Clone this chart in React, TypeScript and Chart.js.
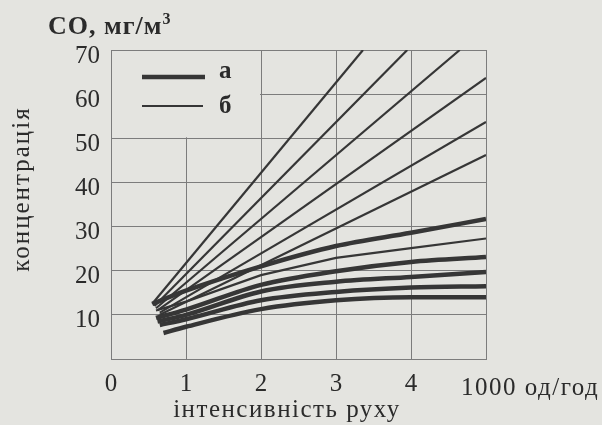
import React, { useEffect, useRef } from 'react';
import { Chart, registerables } from 'chart.js';

Chart.register(...registerables);

// ---- data ----
const xTickMax = 5;
const yTickMax = 70;
const legendLabels = ['а', 'б'];
const yTitle = 'концентрація';
const xTitle = 'інтенсивність руху';
const xUnit = '1000 од/год';
const yUnit = 'CO, мг/м';
const yUnitSup = '3';

// thin lines (б): [x, y] points
const thin1: number[][] = [[0.55, 12.5], [3.36, 70]];
const thin2: number[][] = [[0.58, 12], [3.95, 70]];
const thin3: number[][] = [[0.6, 11.5], [4.65, 70]];
const thin4: number[][] = [[0.62, 11], [5, 63.7]];
const thin5: number[][] = [[0.65, 10.5], [5, 53.7]];
const thin6: number[][] = [[0.65, 10], [5, 46.2]];
const thin7: number[][] = [[0.6, 11], [1, 13], [2, 19], [3, 22.9], [4, 25.1], [5, 27.3]];

// thick lines (а)
const thick1: number[][] = [[0.55, 12.5], [1, 15.5], [2, 21], [3, 25.6], [4, 28.6], [5, 31.7]];
const thick2: number[][] = [[0.6, 9.3], [1, 11.2], [2, 16.8], [3, 19.9], [4, 22], [5, 23.1]];
const thick3: number[][] = [[0.62, 8.5], [1, 10], [2, 15.3], [3, 17.5], [4, 18.6], [5, 19.7]];
const thick4: number[][] = [[0.65, 7.7], [1, 9], [2, 13.3], [3, 15.2], [4, 16.2], [5, 16.5]];
const thick5: number[][] = [[0.7, 5.9], [1, 7.3], [2, 11.3], [3, 13.3], [4, 14], [5, 14]];

const thinSeries = [thin1, thin2, thin3, thin4, thin5, thin6, thin7];
const thickSeries = [thick1, thick2, thick3, thick4, thick5];

const PAPER = '#e4e4e0';
const INK = '#2b2b2b';
const LINE = '#363636';
const GRID = '#7c7c7c';
const FONT = "'Liberation Serif', 'DejaVu Serif', serif";

const decorPlugin = {
  id: 'decor',
  beforeDraw(chart: any) {
    const { ctx } = chart;
    ctx.save();
    ctx.fillStyle = PAPER;
    ctx.fillRect(0, 0, chart.width, chart.height);
    ctx.restore();
  },
  beforeDatasetsDraw(chart: any) {
    const { ctx, scales } = chart;
    const x0 = scales.x.getPixelForValue(0);
    const x2 = scales.x.getPixelForValue(2);
    const y70 = scales.y.getPixelForValue(70);
    const y50 = scales.y.getPixelForValue(50);
    ctx.save();
    ctx.fillStyle = PAPER;
    ctx.fillRect(x0 + 1, y70 + 1, x2 - x0 - 2, y50 - y70 - 2);
    ctx.restore();
  },
  afterDatasetsDraw(chart: any) {
    const { ctx, scales } = chart;
    const x0 = scales.x.getPixelForValue(0);
    ctx.save();
    // legend
    ctx.strokeStyle = LINE;
    ctx.lineCap = 'butt';
    ctx.lineWidth = 4.5;
    ctx.beginPath();
    ctx.moveTo(x0 + 31, 77);
    ctx.lineTo(x0 + 94, 77);
    ctx.stroke();
    ctx.lineWidth = 2.2;
    ctx.beginPath();
    ctx.moveTo(x0 + 31, 106);
    ctx.lineTo(x0 + 92, 106);
    ctx.stroke();
    ctx.fillStyle = INK;
    ctx.font = `bold 25px ${FONT}`;
    ctx.textBaseline = 'middle';
    ctx.textAlign = 'left';
    ctx.fillText(legendLabels[0], x0 + 108, 72);
    ctx.fillText(legendLabels[1], x0 + 108, 107);

    // y unit title
    (ctx as any).letterSpacing = '1px';
    ctx.font = `bold 26px ${FONT}`;
    ctx.textBaseline = 'alphabetic';
    ctx.fillText(yUnit, 48, 34);
    const w = ctx.measureText(yUnit).width;
    ctx.font = `bold 16px ${FONT}`;
    ctx.fillText(yUnitSup, 48 + w, 24);

    // x unit
    (ctx as any).letterSpacing = '1.5px';
    ctx.font = `25px ${FONT}`;
    ctx.fillText(xUnit, 461, 395);

    // x title
    ctx.textAlign = 'center';
    ctx.fillText(xTitle, 287, 417);

    // y title
    (ctx as any).letterSpacing = '2px';
    ctx.translate(29, 189);
    ctx.rotate(-Math.PI / 2);
    ctx.textBaseline = 'alphabetic';
    ctx.fillText(yTitle, 0, 0);
    ctx.restore();
  },
};

export default function App() {
  const ref = useRef<HTMLCanvasElement | null>(null);

  useEffect(() => {
    document.body.style.margin = '0';
    document.body.style.background = PAPER;
    const datasets: any[] = [];
    thinSeries.forEach((s) => {
      datasets.push({
        data: s.map(([x, y]) => ({ x, y })),
        borderColor: LINE,
        borderWidth: 2.2,
        pointRadius: 0,
        tension: 0,
        label: legendLabels[1],
      });
    });
    thickSeries.forEach((s) => {
      datasets.push({
        data: s.map(([x, y]) => ({ x, y })),
        borderColor: LINE,
        borderWidth: 4.5,
        pointRadius: 0,
        cubicInterpolationMode: 'monotone',
        label: legendLabels[0],
      });
    });

    const chart = new Chart(ref.current!, {
      type: 'line',
      data: { datasets },
      options: {
        animation: false,
        responsive: false,
        layout: { padding: { left: 0, top: 50, right: 116, bottom: 0 } },
        plugins: { legend: { display: false }, tooltip: { enabled: false } },
        scales: {
          x: {
            type: 'linear',
            min: 0,
            max: xTickMax,
            afterFit: (s: any) => { s.height = 66; },
            grid: { color: GRID, lineWidth: 1, drawTicks: false },
            border: { color: GRID, width: 1 },
            ticks: {
              stepSize: 1,
              padding: 10,
              color: INK,
              font: { family: FONT, size: 25 },
              callback: (v: any) => (v >= xTickMax ? '' : String(v)),
            },
          },
          y: {
            type: 'linear',
            min: 0,
            max: yTickMax,
            afterFit: (s: any) => { s.width = 111; },
            grid: { color: GRID, lineWidth: 1, drawTicks: false },
            border: { color: GRID, width: 1 },
            ticks: {
              stepSize: 10,
              padding: 11,
              color: INK,
              font: { family: FONT, size: 25 },
              labelOffset: 6,
              callback: (v: any) => (v === 0 ? '' : String(v)),
            },
          },
        },
      },
      plugins: [decorPlugin],
    });
    return () => chart.destroy();
  }, []);

  return (
    <div style={{ position: 'fixed', left: 0, top: 0, width: 602, height: 425, background: PAPER }}>
      <canvas ref={ref} width={602} height={425} />
    </div>
  );
}
